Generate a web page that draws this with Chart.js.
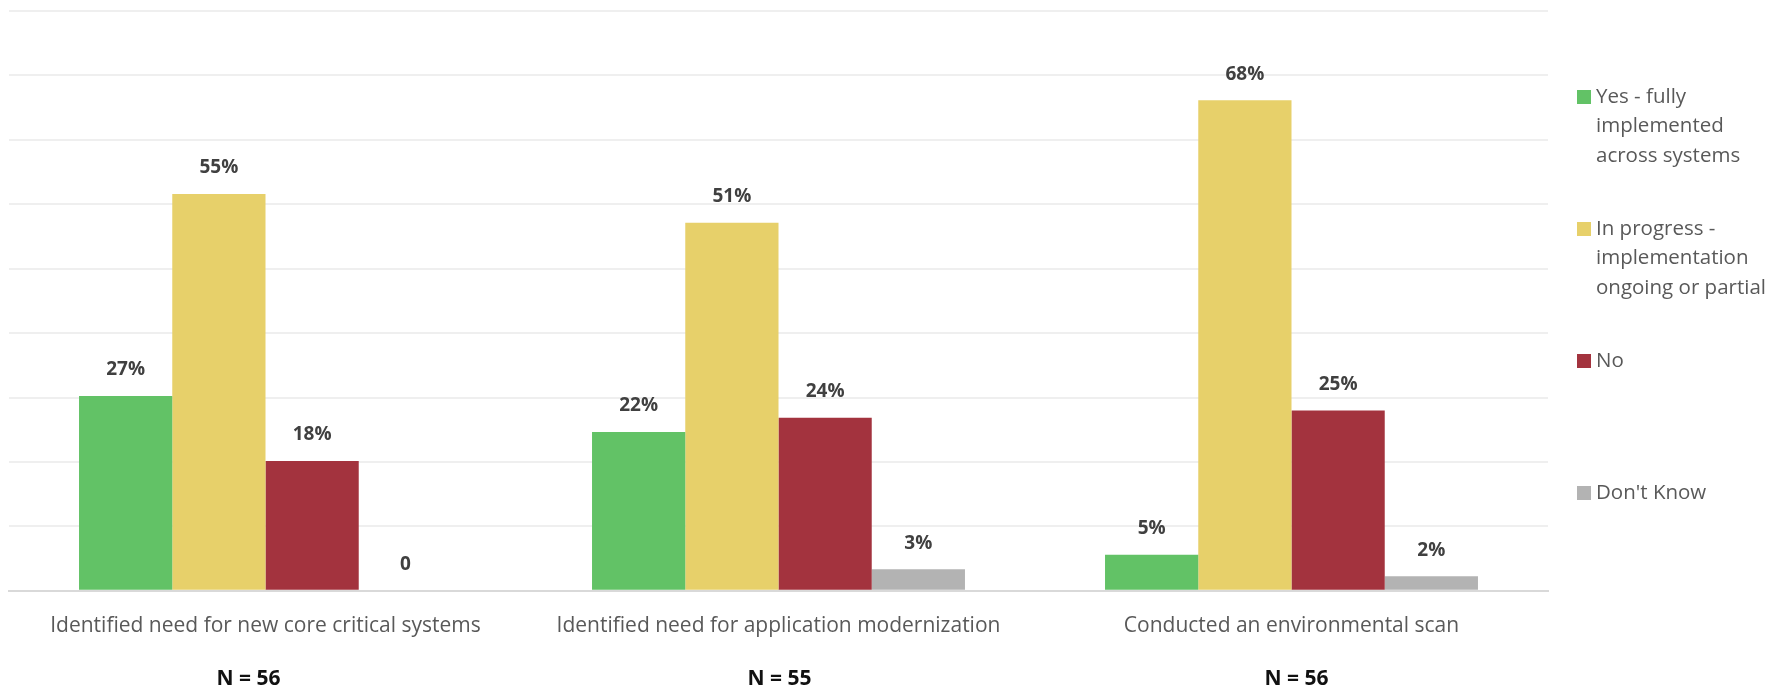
<!DOCTYPE html>
<html>
<head>
<meta charset="utf-8">
<title>Implementation status</title>
<script src="https://cdn.jsdelivr.net/npm/chart.js@4.4.1/dist/chart.umd.min.js"></script>
<style>
  html, body { margin: 0; padding: 0; background: #ffffff; }
  #wrap { position: relative; width: 1774px; height: 688px; }
</style>
</head>
<body>
<div id="wrap"><canvas id="statusChart" width="1774" height="688"></canvas></div>
<script>
/* ---------- data ---------- */
const categories = [
  "Identified need for new core critical systems",
  "Identified need for application modernization",
  "Conducted an environmental scan"
];
const respondents = [56, 55, 56];

const seriesNames = [
  "Yes - fully implemented across systems",
  "In progress - implementation ongoing or partial",
  "No",
  "Don't Know"
];
const seriesColors = ["#62C266", "#E7D06A", "#A3333E", "#B3B3B3"];

// percent of respondents per answer, one array per answer
const yesValues        = [27, 22, 5];
const inProgressValues = [55, 51, 68];
const noValues         = [18, 24, 25];
const dontKnowValues   = [0, 3, 2];

const seriesValues = [yesValues, inProgressValues, noValues, dontKnowValues];

/* ---------- helpers ---------- */
const FONT = "'Open Sans', 'Noto Sans', sans-serif";

// gridlines every 5 respondents out of 56, nine steps up
const gridStep = 500 / 56;
const gridSteps = 9;

/* value labels above each bar */
const barLabels = {
  id: "barLabels",
  afterDatasetsDraw(chart) {
    const ctx = chart.ctx;
    ctx.save();
    ctx.font = "bold 19px " + FONT;
    ctx.fillStyle = "#404040";
    ctx.textAlign = "center";
    ctx.textBaseline = "middle";
    chart.data.datasets.forEach((ds, di) => {
      chart.getDatasetMeta(di).data.forEach((bar, i) => {
        const v = ds.data[i];
        ctx.fillText(v === 0 ? "0" : v + "%", bar.x, bar.y - 26);
      });
    });
    ctx.restore();
  }
};

/* N = xx under each category (text boxes sit slightly off-centre) */
const sampleSizes = {
  id: "sampleSizes",
  afterDraw(chart) {
    const ctx = chart.ctx;
    const x = chart.scales.x;
    const nudge = [-17, 1, 5];
    ctx.save();
    ctx.font = "bold 21px " + FONT;
    ctx.fillStyle = "#111111";
    ctx.textAlign = "center";
    ctx.textBaseline = "middle";
    respondents.forEach((n, i) => {
      ctx.fillText("N = " + n, x.getPixelForValue(i) + nudge[i], 679);
    });
    ctx.restore();
  }
};

/* legend on the right, labels wrapped onto several lines */
const sideLegend = {
  id: "sideLegend",
  afterDraw(chart) {
    const ctx = chart.ctx;
    const left = 1577, top = 97, gap = 132, lineH = 29.5, maxW = 176;
    ctx.save();
    ctx.font = "20.5px " + FONT;
    ctx.textBaseline = "middle";
    chart.data.datasets.forEach((ds, di) => {
      // split the label into lines that fit maxW
      const words = ds.label.split(" ");
      const lines = [];
      let line = "";
      words.forEach(w => {
        const test = line ? line + " " + w : w;
        if (line && ctx.measureText(test).width > maxW) {
          lines.push(line);
          line = w;
        } else {
          line = test;
        }
      });
      lines.push(line);

      const y = top + di * gap;
      ctx.fillStyle = ds.backgroundColor;
      ctx.fillRect(left, y - 7, 14, 14);
      ctx.fillStyle = "#595959";
      lines.forEach((l, li) => ctx.fillText(l, left + 19, y + li * lineH));
    });
    ctx.restore();
  }
};

/* ---------- chart ---------- */
new Chart(document.getElementById("statusChart"), {
  type: "bar",
  data: {
    labels: categories,
    datasets: seriesNames.map((name, i) => ({
      label: name,
      data: seriesValues[i],
      backgroundColor: seriesColors[i],
      categoryPercentage: 0.727,
      barPercentage: 1.0
    }))
  },
  options: {
    responsive: false,
    animation: false,
    layout: { padding: { left: 9, right: 226, top: 11, bottom: 34 } },
    plugins: {
      legend: { display: false },
      tooltip: { enabled: false }
    },
    scales: {
      x: {
        grid: { display: false },
        border: { color: "#D9D9D9", width: 2 },
        ticks: {
          color: "#595959",
          font: { family: FONT, size: 21 },
          padding: 15,
          maxRotation: 0
        }
      },
      y: {
        min: 0,
        max: gridStep * gridSteps,
        afterBuildTicks(scale) {
          scale.ticks = Array.from({ length: gridSteps + 1 }, (_, i) => ({ value: i * gridStep }));
        },
        ticks: { display: false },
        border: { display: false },
        grid: { color: "#EFEFEF", lineWidth: 2, drawTicks: false }
      }
    }
  },
  plugins: [barLabels, sampleSizes, sideLegend]
});
</script>
</body>
</html>
